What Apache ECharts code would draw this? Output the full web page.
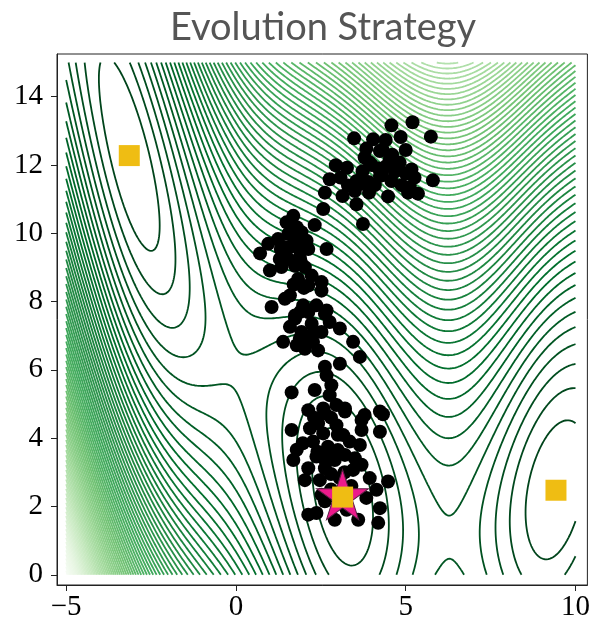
<!DOCTYPE html>
<html>
<head>
<meta charset="utf-8">
<script src="https://cdn.jsdelivr.net/npm/echarts@6/dist/echarts.min.js"></script>
<style>
  html, body { margin: 0; padding: 0; background: #ffffff; }
  #chart { width: 593px; height: 622px; }
</style>
</head>
<body>
<div id="chart"></div>
<script>
// Axis ticks
const xTicks = [-5, 0, 5, 10];
const yTicks = [0, 2, 4, 6, 8, 10, 12, 14];

// Search domain of the Branin objective
const domainX = [-5, 10];
const domainY = [0, 15];

// Known global minima of the Branin function
const optimaX = [-Math.PI, Math.PI, 9.42478];
const optimaY = [12.275, 2.275, 2.475];

// Best solution found by the strategy
const bestX = [3.14];
const bestY = [2.275];

// Sampled population (all generations)
const popX = [
  4.58, 5.20, 5.74, 3.48, 4.04, 4.41, 4.85, 3.84, 4.24, 5.00, 2.94, 3.27, 3.94, 3.73, 4.43, 4.82, 5.17, 5.80,
  2.76, 3.08, 3.55, 4.24, 4.58, 5.26, 2.62, 3.14, 3.50, 3.92, 4.48, 5.07, 5.36, 3.55, 2.57, 3.74,
  4.53, 4.68, 4.09, 4.88, 4.32, 3.79, 5.12, 3.65, 4.00, 4.30, 4.60, 3.90, 4.20, 3.30, 5.00,
  1.69, 1.49, 2.32, 1.93, 1.54, 1.24, 0.95, 1.74, 2.08, 0.71, 2.67, 2.13, 1.29, 1.54, 1.00, 1.34, 1.74, 2.03,
  2.23, 1.83, 2.13, 2.52, 2.52, 1.59, 1.44, 1.05, 1.98, 2.37, 2.67, 1.74, 1.88, 1.79, 1.32, 1.88,
  1.60, 1.90, 1.40, 2.00, 1.70, 1.90,
  2.13, 2.62, 1.59, 2.23, 2.76, 3.06, 1.93, 2.52, 1.39, 1.79, 2.27, 2.42, 3.45, 3.65, 2.03, 2.62, 3.06, 2.67,
  2.81, 1.64, 2.32, 2.76, 2.13, 2.57, 2.96, 3.21, 3.79, 4.24, 1.74, 1.88, 2.30, 2.00,
  2.62, 3.21, 4.33, 1.64, 2.42, 2.96, 3.70, 2.57, 3.16, 3.70, 4.24, 1.79, 2.27, 2.71, 3.35, 3.65, 1.69, 2.37,
  2.91, 3.21, 3.50, 2.13, 2.62, 3.45, 3.70, 3.94, 4.48, 4.14, 2.52, 2.62, 3.84, 2.13, 2.37, 3.26, 4.24, 2.91,
  3.60, 4.19, 2.18, 2.76, 2.47, 3.06, 2.03, 1.97, 2.30, 2.80, 3.00, 2.40, 3.00, 2.60, 2.80, 3.20, 3.40, 2.80
];
const popY = [
  13.16, 13.25, 12.83, 12.78, 12.75, 12.73, 12.82, 12.48, 12.41, 12.44, 11.99, 11.92, 12.07, 11.82, 11.97, 12.07, 11.87, 11.55,
  11.58, 11.63, 11.53, 11.68, 11.53, 11.63, 11.19, 11.09, 11.24, 11.19, 11.08, 11.19, 11.16, 10.85, 10.71, 10.27,
  12.16, 11.81, 11.41, 11.41, 12.45, 12.22, 11.35, 11.44, 12.00, 11.70, 12.30, 11.50, 11.90, 11.40, 11.75,
  10.51, 10.32, 10.24, 10.03, 9.98, 9.83, 9.69, 9.78, 9.78, 9.41, 9.54, 9.54, 9.25, 9.25, 8.91, 9.01, 9.05, 9.01,
  8.76, 8.66, 8.47, 8.57, 8.32, 8.18, 8.08, 7.84, 7.89, 7.89, 7.74, 7.59, 9.54, 10.18, 9.54, 9.31,
  9.60, 9.20, 9.60, 8.40, 8.50, 7.70,
  7.69, 7.64, 7.26, 7.35, 7.40, 7.21, 7.11, 7.11, 6.82, 6.72, 6.82, 6.57, 6.82, 6.38, 6.62, 6.09, 6.18, 5.84,
  5.55, 5.34, 5.41, 5.26, 4.82, 4.87, 4.97, 4.87, 4.68, 4.78, 7.50, 6.91, 7.10, 6.95,
  4.73, 4.78, 4.70, 4.24, 4.43, 4.38, 4.53, 4.14, 4.09, 4.24, 4.19, 3.66, 3.90, 3.75, 3.90, 3.80, 3.36, 3.46,
  3.36, 3.51, 3.41, 3.12, 3.12, 3.07, 3.22, 2.83, 2.73, 2.49, 2.34, 2.15, 2.25, 1.76, 1.81, 1.90, 1.95, 1.61,
  1.61, 1.52, 4.29, 3.56, 2.77, 2.83, 2.77, 3.85, 4.60, 4.60, 4.10, 3.60, 3.65, 3.40, 2.95, 3.00, 2.60, 2.50
];

// Contour spacing of the objective
const levelStep = 4;

// matplotlib "Greens" colour stops (reversed when applied: low = dark)
const greens = ['#f7fcf5', '#e5f5e0', '#c7e9c0', '#a1d99b', '#74c476', '#41ab5d', '#238b45', '#006d2c', '#00441b'];

function branin(x, y) {
  const b = 5.1 / (4 * Math.PI * Math.PI);
  const c = 5 / Math.PI;
  const t = 1 / (8 * Math.PI);
  const u = y - b * x * x + c * x - 6;
  return u * u + 10 * (1 - t) * Math.cos(x) + 10;
}

function hexToRgb(h) {
  return [parseInt(h.slice(1, 3), 16), parseInt(h.slice(3, 5), 16), parseInt(h.slice(5, 7), 16)];
}
function greensColor(s) {
  s = Math.max(0, Math.min(1, s));
  const pos = s * (greens.length - 1);
  const k = Math.min(greens.length - 2, Math.floor(pos));
  const f = pos - k;
  const a = hexToRgb(greens[k]), b = hexToRgb(greens[k + 1]);
  const r = a.map((v, i) => Math.round(v + (b[i] - v) * f));
  return 'rgb(' + r.join(',') + ')';
}

// Sample the objective on a regular grid
const N = 301;
const gx = [], gy = [];
for (let i = 0; i < N; i++) {
  gx.push(domainX[0] + (domainX[1] - domainX[0]) * i / (N - 1));
  gy.push(domainY[0] + (domainY[1] - domainY[0]) * i / (N - 1));
}
const Z = new Float64Array(N * N);
let zMax = -Infinity;
for (let j = 0; j < N; j++) {
  for (let i = 0; i < N; i++) {
    const v = branin(gx[i], gy[j]);
    Z[j * N + i] = v;
    if (v > zMax) zMax = v;
  }
}
const levels = [];
for (let v = levelStep; v < zMax; v += levelStep) levels.push(v);

// Marching squares: iso-lines for one level, chained into polylines
function isoLines(level) {
  const pts = new Map();
  const adj = new Map();
  function edgePoint(key, x1, y1, v1, x2, y2, v2) {
    if (!pts.has(key)) {
      const t = (level - v1) / (v2 - v1);
      pts.set(key, [x1 + (x2 - x1) * t, y1 + (y2 - y1) * t]);
    }
  }
  function link(k1, k2) {
    if (!adj.has(k1)) adj.set(k1, []);
    if (!adj.has(k2)) adj.set(k2, []);
    adj.get(k1).push(k2);
    adj.get(k2).push(k1);
  }
  for (let j = 0; j < N - 1; j++) {
    for (let i = 0; i < N - 1; i++) {
      const a = Z[j * N + i], b = Z[j * N + i + 1];
      const c = Z[(j + 1) * N + i + 1], d = Z[(j + 1) * N + i];
      const sa = a >= level, sb = b >= level, sc = c >= level, sd = d >= level;
      if (sa === sb && sb === sc && sc === sd) continue;
      const crossed = [];
      if (sa !== sb) { const k = 2 * (j * N + i); edgePoint(k, gx[i], gy[j], a, gx[i + 1], gy[j], b); crossed.push(k); }
      if (sb !== sc) { const k = 2 * (j * N + i + 1) + 1; edgePoint(k, gx[i + 1], gy[j], b, gx[i + 1], gy[j + 1], c); crossed.push(k); }
      if (sc !== sd) { const k = 2 * ((j + 1) * N + i); edgePoint(k, gx[i], gy[j + 1], d, gx[i + 1], gy[j + 1], c); crossed.push(k); }
      if (sd !== sa) { const k = 2 * (j * N + i) + 1; edgePoint(k, gx[i], gy[j], a, gx[i], gy[j + 1], d); crossed.push(k); }
      if (crossed.length === 2) {
        link(crossed[0], crossed[1]);
      } else if (crossed.length === 4) {
        const sm = (a + b + c + d) / 4 >= level;
        if (sm === sa) { link(crossed[0], crossed[1]); link(crossed[2], crossed[3]); }
        else { link(crossed[3], crossed[0]); link(crossed[1], crossed[2]); }
      }
    }
  }
  const visited = new Set();
  const paths = [];
  function walk(start) {
    const path = [pts.get(start)];
    visited.add(start);
    let cur = start;
    while (true) {
      const nb = adj.get(cur);
      let next = null;
      for (const n of nb) { if (!visited.has(n)) { next = n; break; } }
      if (next === null) {
        if (path.length > 2 && nb.includes(start)) path.push(pts.get(start));
        break;
      }
      visited.add(next);
      path.push(pts.get(next));
      cur = next;
    }
    if (path.length > 1) paths.push(path);
  }
  for (const [k, nb] of adj) if (nb.length === 1 && !visited.has(k)) walk(k);
  for (const [k] of adj) if (!visited.has(k)) walk(k);
  return paths;
}

const lvMin = levels[0], lvMax = levels[levels.length - 1];
const contourSeries = levels.map(function (lv) {
  return {
    type: 'lines',
    coordinateSystem: 'cartesian2d',
    polyline: true,
    silent: true,
    animation: false,
    z: 1,
    lineStyle: { color: greensColor(1 - (lv - lvMin) / (lvMax - lvMin)), width: 1.8, opacity: 1 },
    data: isoLines(lv).map(function (p) { return { coords: p }; })
  };
});

// Five-pointed star marker
function starPath() {
  const pts = [];
  for (let k = 0; k < 10; k++) {
    const ang = -Math.PI / 2 + k * Math.PI / 5;
    const r = k % 2 === 0 ? 100 : 38.1966;
    pts.push((r * Math.cos(ang)).toFixed(2) + ' ' + (r * Math.sin(ang)).toFixed(2));
  }
  return 'path://M' + pts.join(' L') + ' Z';
}

const zip = (xs, ys) => xs.map((x, i) => [x, ys[i]]);
const minus = v => String(v).replace('-', '\u2212');

const option = {
  animation: false,
  backgroundColor: '#ffffff',
  graphic: [{
    type: 'text',
    x: 323,
    y: 28,
    style: {
      text: 'Evolution Strategy',
      font: '38px Lato',
      fill: '#555555',
      textAlign: 'center',
      textVerticalAlign: 'middle'
    }
  }],
  grid: {
    left: 57, right: 5, top: 54, bottom: 35,
    show: true, borderColor: '#222222', borderWidth: 1, backgroundColor: 'transparent'
  },
  xAxis: {
    type: 'value',
    min: -5.27, max: 10.35,
    splitLine: { show: false },
    axisLine: { show: true, onZero: false, lineStyle: { color: '#222222', width: 1 } },
    axisTick: { show: true, length: 6, customValues: xTicks, lineStyle: { color: '#222222', width: 1 } },
    axisLabel: {
      customValues: xTicks, formatter: minus, margin: 8,
      fontFamily: 'Liberation Serif', fontSize: 29, color: '#000000'
    }
  },
  yAxis: {
    type: 'value',
    min: -0.3, max: 15.25,
    splitLine: { show: false },
    axisLine: { show: true, onZero: false, lineStyle: { color: '#222222', width: 1 } },
    axisTick: { show: true, length: 6, customValues: yTicks, lineStyle: { color: '#222222', width: 1 } },
    axisLabel: {
      customValues: yTicks, formatter: minus, margin: 14,
      fontFamily: 'Liberation Serif', fontSize: 29, color: '#000000'
    }
  },
  series: contourSeries.concat([
    {
      type: 'scatter', silent: true, z: 3,
      symbol: 'circle', symbolSize: 14,
      itemStyle: { color: '#000000', opacity: 1 },
      data: zip(popX, popY)
    },
    {
      type: 'scatter', silent: true, z: 4,
      symbol: starPath(), symbolSize: [52, 50], symbolOffset: [0, -2.5],
      itemStyle: { color: '#ec1a8c', borderColor: '#5a1f45', borderWidth: 1, opacity: 1 },
      data: zip(bestX, bestY)
    },
    {
      type: 'scatter', silent: true, z: 5,
      symbol: 'rect', symbolSize: 21,
      itemStyle: { color: '#efbd13', opacity: 1 },
      data: zip(optimaX, optimaY)
    }
  ])
};

const chart = echarts.init(document.getElementById('chart'), null, { renderer: 'canvas' });
chart.setOption(option);
</script>
</body>
</html>
